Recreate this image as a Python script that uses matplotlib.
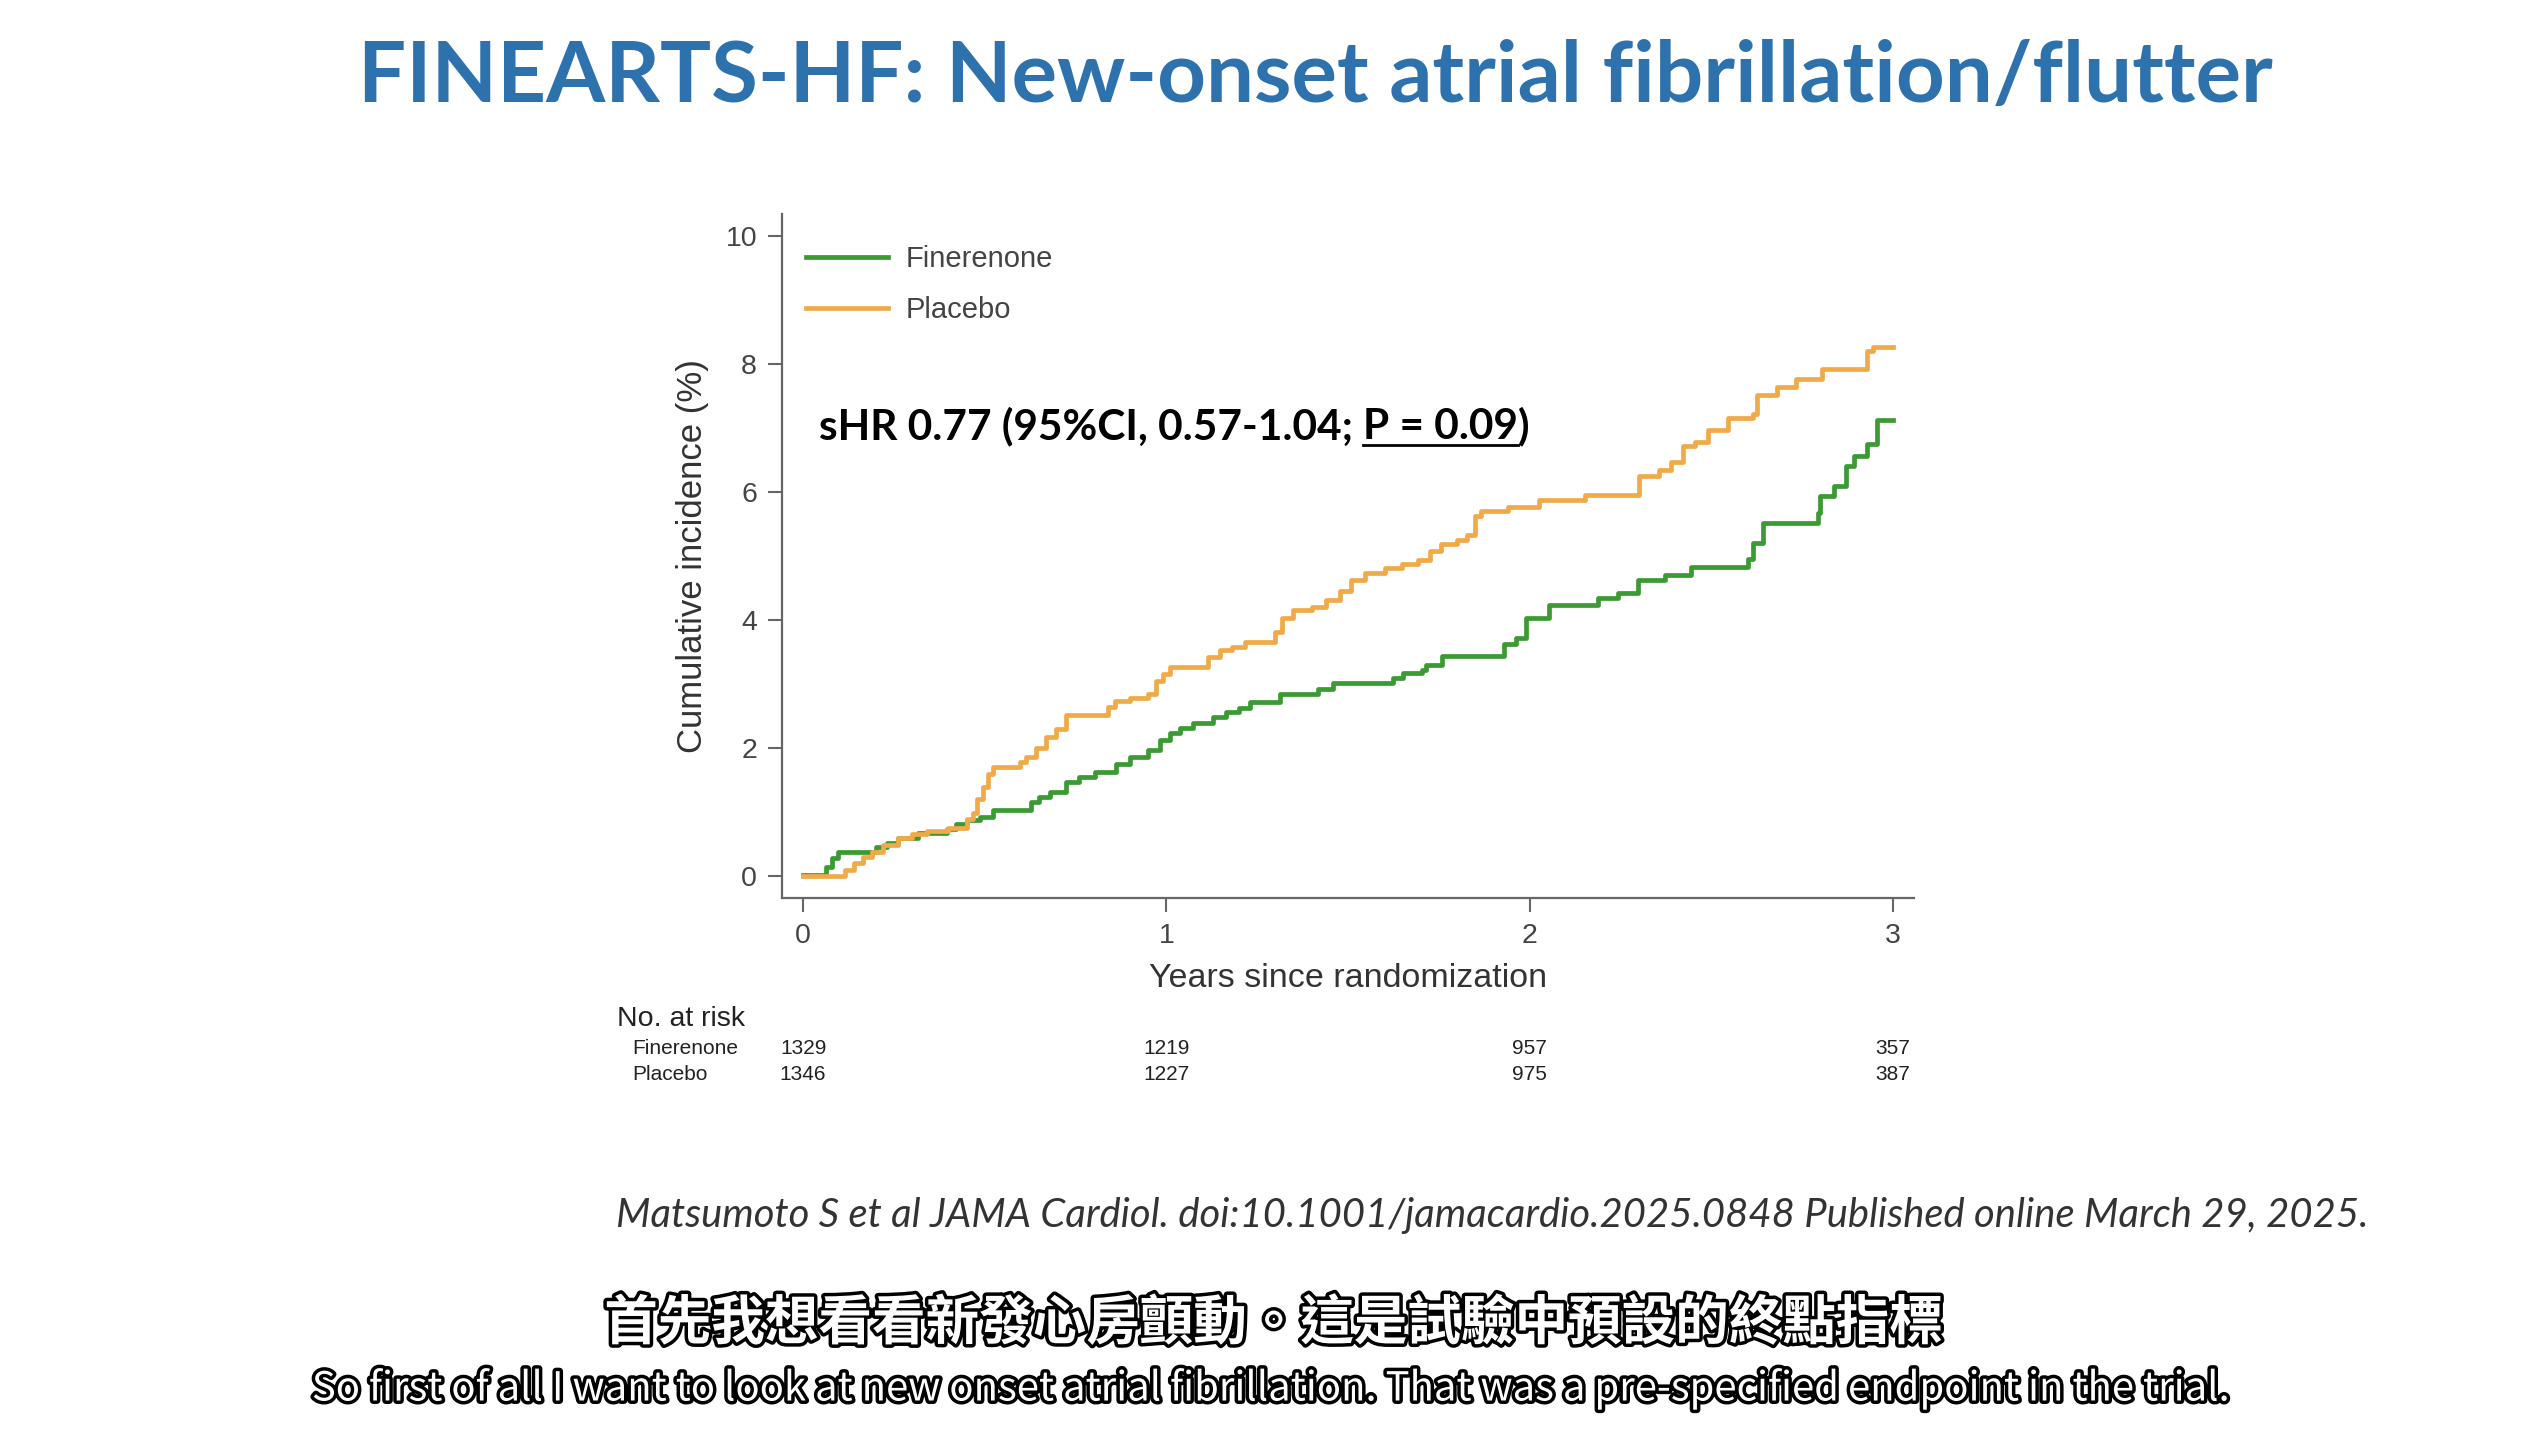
import numpy as np
import matplotlib
matplotlib.use("Agg")
import matplotlib.pyplot as plt
from matplotlib.lines import Line2D
import matplotlib.transforms as mtrans
import matplotlib.patheffects as pe

# curve data (years, cumulative incidence %)
fin_t = [0, 0.064, 0.08, 0.096, 0.20, 0.23, 0.26, 0.316, 0.395, 0.42, 0.45, 0.486,
         0.523, 0.628, 0.65, 0.679, 0.725, 0.76, 0.803, 0.862, 0.899, 0.95, 0.982, 1.009,
         1.037, 1.074, 1.128, 1.165, 1.20, 1.229, 1.312, 1.418, 1.459, 1.625, 1.652, 1.704,
         1.716, 1.76, 1.929, 1.962, 1.99, 2.053, 2.187, 2.243, 2.299, 2.372, 2.445, 2.602,
         2.614, 2.642, 2.793, 2.799, 2.838, 2.872, 2.894, 2.929, 2.957, 3.0]
fin_y = [0.02, 0.15, 0.28, 0.38, 0.45, 0.52, 0.59, 0.68, 0.74, 0.81, 0.88, 0.93,
         1.04, 1.16, 1.24, 1.32, 1.47, 1.55, 1.63, 1.75, 1.86, 1.97, 2.12, 2.23,
         2.31, 2.39, 2.49, 2.57, 2.62, 2.72, 2.85, 2.93, 3.01, 3.10, 3.17, 3.22,
         3.30, 3.44, 3.63, 3.72, 4.03, 4.24, 4.34, 4.43, 4.62, 4.71, 4.83, 4.96,
         5.20, 5.51, 5.67, 5.94, 6.09, 6.41, 6.56, 6.75, 7.12, 7.12]

pla_t = [0, 0.115, 0.14, 0.165, 0.19, 0.22, 0.26, 0.30, 0.34, 0.40, 0.45, 0.468,
         0.48, 0.495, 0.51, 0.523, 0.597, 0.615, 0.642, 0.67, 0.697, 0.725, 0.839, 0.86,
         0.90, 0.95, 0.972, 0.991, 1.009, 1.115, 1.147, 1.18, 1.216, 1.298, 1.317, 1.349,
         1.40, 1.44, 1.479, 1.507, 1.547, 1.603, 1.648, 1.693, 1.727, 1.755, 1.80, 1.828,
         1.85, 1.867, 1.94, 2.025, 2.153, 2.30, 2.356, 2.389, 2.423, 2.456, 2.49, 2.546,
         2.614, 2.625, 2.681, 2.732, 2.805, 2.929, 2.945, 3.0]
pla_y = [0, 0.1, 0.2, 0.3, 0.38, 0.48, 0.59, 0.66, 0.70, 0.76, 0.90, 0.98,
         1.2, 1.4, 1.6, 1.71, 1.79, 1.86, 2.0, 2.17, 2.30, 2.51, 2.65, 2.73,
         2.78, 2.85, 3.05, 3.15, 3.27, 3.43, 3.53, 3.58, 3.66, 3.82, 4.03, 4.16,
         4.21, 4.31, 4.46, 4.62, 4.73, 4.81, 4.87, 4.94, 5.08, 5.18, 5.25, 5.33,
         5.62, 5.70, 5.77, 5.87, 5.95, 6.25, 6.34, 6.47, 6.72, 6.78, 6.96, 7.15,
         7.21, 7.52, 7.64, 7.77, 7.92, 8.20, 8.26, 8.26]

groups = ["Finerenone", "Placebo"]
risk_years = [0, 1, 2, 3]
risk_fin = [1329, 1219, 957, 357]
risk_pla = [1346, 1227, 975, 387]

title = "FINEARTS-HF: New-onset atrial fibrillation/flutter"
stat_a = "sHR 0.77 (95%CI, 0.57-1.04; "
stat_p = "P = 0.09"
cite = "Matsumoto S et al JAMA Cardiol. doi:10.1001/jamacardio.2025.0848 Published online March 29, 2025."
sub_zh = "首先我想看看新發心房顫動。這是試驗中預設的終點指標"
sub_en = "So first of all I want to look at new onset atrial fibrillation. That was a pre-specified endpoint in the trial."

W, H = 2548, 1432
green = "#3b9a33"
orange = "#f0aa48"
grey = "#444444"
sans = ["Liberation Sans", "DejaVu Sans"]
lato = ["Lato", "DejaVu Sans"]

fig = plt.figure(figsize=(W / 100, H / 100), dpi=100)
fig.patch.set_facecolor("white")

def fx(x):
    return x / W

def fy(y):
    return 1 - y / H

ax = fig.add_axes([fx(782), fy(898), fx(1914) - fx(782), fy(214) - fy(898)])
ax.plot(fin_t, fin_y, drawstyle="steps-post", color=green, lw=3.4, label=groups[0])
ax.plot(pla_t, pla_y, drawstyle="steps-post", color=orange, lw=3.4, label=groups[1])
ax.set_xlim(-0.058, 3.058)
ax.set_ylim(-0.34, 10.34)
ax.set_xticks([0, 1, 2, 3])
ax.set_yticks([0, 2, 4, 6, 8, 10])
for s in ["top", "right"]:
    ax.spines[s].set_visible(False)
for s in ["left", "bottom"]:
    ax.spines[s].set_color("#666666")
    ax.spines[s].set_linewidth(1.6)
ax.tick_params(length=10, width=1.5, color="#666666", labelcolor=grey, labelsize=20.5, pad=8)
for lab in ax.get_xticklabels() + ax.get_yticklabels():
    lab.set_family(sans)
ax.set_xlabel("Years since randomization", family=sans, fontsize=24.5, color="#333333", labelpad=10)
ax.set_ylabel("Cumulative incidence (%)", family=sans, fontsize=25, color="#333333", labelpad=12)

leg = ax.legend(loc="upper left", bbox_to_anchor=(fx(806), fy(245)), bbox_transform=fig.transFigure,
                frameon=False, prop={"family": sans, "size": 21}, handlelength=2.8,
                handletextpad=0.6, labelspacing=0.8, borderpad=0, borderaxespad=0)
for t in leg.get_texts():
    t.set_color(grey)

# fixed-position texts
t_title = fig.text(fx(1315), fy(78), title, ha="center", va="center", color="#2e72ad",
                   family=lato, weight="bold", fontsize=60)
t_a = fig.text(fx(819), fy(426), stat_a, ha="left", va="center", color="black",
               family=lato, weight="bold", fontsize=30.5)
t_p = ax.annotate(stat_p, xy=(1, 0), xycoords=t_a, va="bottom", ha="left", color="black",
                  family=lato, weight="bold", fontsize=30.5)
t_c = ax.annotate(")", xy=(1, 0), xycoords=t_p, va="bottom", ha="left", color="black",
                  family=lato, weight="bold", fontsize=30.5)
t_cite = fig.text(fx(1492), fy(1215), cite, ha="center", va="center", color="#333333",
                  family=lato, style="italic", fontsize=28)

# risk table
fig.text(fx(617), fy(1019), "No. at risk", ha="left", va="center", family=sans, fontsize=20.5, color="#222222")
tr = mtrans.blended_transform_factory(ax.transData, fig.transFigure)
for name, vals, yy in [(groups[0], risk_fin, 1048), (groups[1], risk_pla, 1074)]:
    fig.text(fx(632), fy(yy), name, ha="left", va="center", family=sans, fontsize=15, color="#222222")
    for yr, v in zip(risk_years, vals):
        ax.text(yr, fy(yy), str(v), transform=tr, ha="center", va="center", family=sans,
                fontsize=15, color="#222222")

# subtitles
outline = [pe.withStroke(linewidth=5, foreground="black")]
t_zh = fig.text(fx(1273), fy(1324), sub_zh, ha="center", va="center", color="white",
                family=["Noto Sans CJK TC", "DejaVu Sans"], weight="bold", fontsize=38,
                path_effects=outline)
t_en = fig.text(fx(1272), fy(1389), sub_en, ha="center", va="center", color="white",
                family=["Noto Sans CJK TC", "DejaVu Sans"], weight="medium", fontsize=30,
                path_effects=outline)

# scale some texts to the widths measured on the reference
fig.canvas.draw()
r = fig.canvas.get_renderer()

def fit(t, width):
    bb = t.get_window_extent(r)
    t.set_fontsize(t.get_fontsize() * width / bb.width)

fit(t_title, 1915)
fit(t_cite, 1751)
fit(t_zh, 1338)
fit(t_en, 1917)
fig.canvas.draw()

# underline for the P value
bb = t_p.get_window_extent(r)
fig.add_artist(Line2D([bb.x0, bb.x1], [bb.y0 + 1, bb.y0 + 1], transform=None, color="black", lw=2))

fig.savefig("out.png", dpi=100, facecolor="white")
